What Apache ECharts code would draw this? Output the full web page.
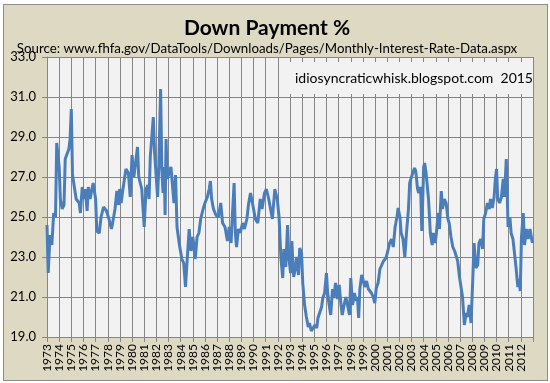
<!DOCTYPE html>
<html>
<head>
<meta charset="utf-8">
<script src="https://cdn.jsdelivr.net/npm/echarts@6/dist/echarts.min.js"></script>
<style>
html,body{margin:0;padding:0;background:#ffffff;}
#wrap{position:relative;width:550px;height:383px;overflow:hidden;}
#frame{position:absolute;left:3px;top:4px;width:545px;height:377px;box-sizing:border-box;background:#ddd9c3;border:1px solid #8c8c8c;}
#chart{position:absolute;left:0;top:0;width:550px;height:383px;}
</style>
</head>
<body>
<div id="wrap"><div id="frame"></div><div id="chart"></div></div>
<script>
// ---- data (time in fractional years, value in %) ----
const timePos = [
1973.00,1973.10,1973.25,1973.40,1973.55,1973.70,1973.80,1974.00,1974.10,1974.25,1974.40,1974.50,1974.65,1974.80,1974.90,
1975.00,1975.10,1975.25,1975.40,1975.50,1975.65,1975.75,1975.90,1976.00,1976.15,1976.30,1976.40,1976.55,1976.70,1976.80,
1977.00,1977.10,1977.30,1977.45,1977.65,1977.90,1978.10,1978.30,1978.40,1978.60,1978.75,1978.90,1978.98,1979.10,1979.25,
1979.40,1979.50,1979.70,1979.85,1980.00,1980.15,1980.30,1980.45,1980.55,1980.70,1980.80,1981.00,1981.15,1981.30,1981.40,
1981.50,1981.55,1981.75,1981.85,1982.00,1982.10,1982.20,1982.35,1982.45,1982.55,1982.65,1982.72,1982.80,1982.90,1983.00,
1983.20,1983.30,1983.45,1983.58,1983.70,1983.90,1984.10,1984.25,1984.40,1984.55,1984.70,1984.85,1985.00,1985.10,1985.20,
1985.35,1985.50,1985.65,1985.85,1986.00,1986.20,1986.35,1986.45,1986.55,1986.70,1986.90,1987.10,1987.30,1987.45,1987.65,
1987.85,1988.00,1988.15,1988.25,1988.40,1988.50,1988.60,1988.75,1988.90,1989.10,1989.25,1989.45,1989.60,1989.75,1989.90,
1990.00,1990.15,1990.35,1990.55,1990.70,1990.90,1991.05,1991.15,1991.25,1991.40,1991.55,1991.75,1991.95,1992.10,1992.25,
1992.40,1992.50,1992.65,1992.80,1992.90,1993.05,1993.15,1993.30,1993.45,1993.55,1993.70,1993.80,1993.95,1994.05,1994.20,
1994.35,1994.50,1994.60,1994.75,1994.90,1995.05,1995.20,1995.30,1995.45,1995.60,1995.70,1995.85,1996.00,1996.10,1996.20,
1996.35,1996.50,1996.60,1996.75,1996.90,1997.05,1997.20,1997.30,1997.45,1997.60,1997.75,1997.90,1998.00,1998.15,1998.30,
1998.45,1998.55,1998.65,1998.75,1998.90,1999.00,1999.15,1999.30,1999.45,1999.55,1999.70,1999.85,1999.98,2000.10,2000.25,
2000.40,2000.50,2000.70,2000.90,2001.05,2001.20,2001.35,2001.50,2001.65,2001.80,2001.90,2002.05,2002.15,2002.30,2002.45,
2002.60,2002.75,2002.85,2003.00,2003.10,2003.25,2003.35,2003.50,2003.60,2003.75,2003.85,2004.00,2004.08,2004.20,2004.40,
2004.55,2004.70,2004.80,2004.95,2005.05,2005.20,2005.30,2005.45,2005.55,2005.70,2005.85,2006.00,2006.10,2006.25,2006.40,
2006.55,2006.70,2006.80,2006.95,2007.05,2007.20,2007.35,2007.50,2007.60,2007.75,2007.90,2008.00,2008.15,2008.30,2008.45,
2008.55,2008.70,2008.85,2008.95,2009.10,2009.25,2009.40,2009.50,2009.65,2009.80,2009.90,2010.00,2010.10,2010.25,2010.40,
2010.55,2010.65,2010.80,2010.95,2011.10,2011.20,2011.35,2011.50,2011.60,2011.75,2011.85,2011.95,2012.05,2012.20,2012.30,
2012.45,2012.60,2012.75,2012.85,2012.95
];
const downPaymentPct = [
24.6,22.2,24.1,23.6,25.2,25.0,28.7,27.5,25.9,25.4,25.6,27.9,28.0,28.4,28.9,
30.4,27.1,27.0,25.9,26.0,25.7,25.2,26.5,25.9,26.4,25.3,26.5,25.9,26.4,26.7,
25.9,24.3,24.2,25.0,25.5,25.3,24.9,24.4,24.7,25.4,26.3,25.6,26.4,25.7,26.4,
26.5,27.4,27.2,26.0,28.1,27.0,27.0,28.5,27.0,26.9,26.4,24.5,26.4,26.6,25.9,
28.0,28.1,30.0,28.3,26.9,26.0,27.5,31.4,27.4,26.2,27.5,25.1,28.9,26.9,26.9,
27.5,27.6,25.7,27.1,24.5,23.6,22.9,22.7,21.5,23.0,24.4,23.3,24.0,23.5,22.9,
24.0,24.2,24.9,25.4,25.7,26.0,26.4,26.8,25.9,25.4,25.1,25.0,25.7,24.7,24.5,
23.8,24.5,23.7,25.0,26.7,24.2,23.5,24.4,24.2,24.7,24.4,24.9,25.7,26.2,26.1,
25.4,24.9,24.7,25.9,25.4,26.2,26.4,26.5,25.9,25.4,24.9,26.4,25.9,25.0,23.0,
21.95,23.4,22.5,24.6,23.0,22.2,23.8,22.0,22.45,23.0,22.1,23.45,23.2,21.7,20.6,
20.0,19.5,19.7,19.3,19.2,19.6,19.45,19.95,19.9,20.5,20.95,21.2,22.2,21.2,20.7,
20.1,21.4,20.95,21.7,20.9,21.6,20.6,20.1,20.6,21.0,20.9,20.1,21.95,20.6,21.2,
20.8,21.0,19.95,21.4,22.1,21.9,21.5,21.8,21.4,21.5,21.2,21.0,20.7,21.45,21.7,
22.4,22.5,22.8,22.95,23.3,23.7,23.9,23.5,24.5,25.0,25.45,25.0,24.2,23.9,23.0,
24.3,25.4,26.7,27.0,27.2,27.45,27.3,26.4,26.2,26.5,24.3,27.5,27.7,27.2,25.9,
24.2,23.6,24.2,23.7,24.2,25.2,24.4,26.3,25.4,25.9,25.7,24.9,24.7,24.0,23.5,
23.3,23.0,22.8,22.0,21.6,21.0,19.6,20.2,20.0,20.6,19.7,21.2,23.7,22.45,22.6,
23.7,23.9,23.4,24.9,25.2,25.7,25.4,25.9,25.45,26.0,26.9,27.4,25.9,25.7,26.0,
26.9,26.0,27.9,24.5,25.0,24.2,23.9,24.0,22.5,21.5,21.9,21.3,24.0,25.2,23.6,
24.4,23.9,24.4,24.3,23.7
];
const yearLabels = ['1973','1974','1975','1976','1977','1978','1979','1980','1981','1982','1983','1984','1985','1986',
'1987','1988','1989','1990','1991','1992','1993','1994','1995','1996','1997','1998','1999','2000','2001','2002','2003',
'2004','2005','2006','2007','2008','2009','2010','2011','2012'];
const valueTicks = [19, 21, 23, 25, 27, 29, 31, 33];

const titleText = 'Down Payment %';
const sourceText = 'Source: www.fhfa.gov/DataTools/Downloads/Pages/Monthly-Interest-Rate-Data.aspx';
const noteText = 'idiosyncraticwhisk.blogspot.com  2015';

const FONT = 'Lato, "Liberation Sans", sans-serif';
const GRID = '#868686';

const chart = echarts.init(document.getElementById('chart'), null, {renderer: 'canvas'});
const seriesData = timePos.map((t, i) => [t, downPaymentPct[i]]);

chart.setOption({
  animation: false,
  backgroundColor: 'transparent',
  title: [
    {text: titleText, left: 262, top: 13, textAlign: 'center',
     textStyle: {fontFamily: FONT, fontSize: 21, fontWeight: 'bold', color: '#000'}},
    {text: sourceText, left: 262, top: 37, textAlign: 'center',
     textStyle: {fontFamily: FONT, fontSize: 13.3, fontWeight: 'normal', color: '#000'}}
  ],
  grid: {left: 47, right: 17, top: 57, bottom: 46, show: true, backgroundColor: '#f2f2f2', borderWidth: 0},
  xAxis: {
    type: 'value', min: 1973, max: 2013, interval: 1,
    axisLine: {show: true, lineStyle: {color: GRID, width: 1}},
    axisTick: {show: true, length: 5, lineStyle: {color: GRID}},
    splitLine: {show: true, lineStyle: {color: GRID, width: 1}},
    axisLabel: {
      rotate: 90, margin: 7, fontFamily: FONT, fontSize: 12, color: '#000',
      formatter: v => { const i = Math.round(v) - 1973; return (i >= 0 && i < yearLabels.length) ? yearLabels[i] : ''; }
    }
  },
  yAxis: {
    type: 'value', min: valueTicks[0], max: valueTicks[valueTicks.length - 1], interval: 2,
    axisLine: {show: true, lineStyle: {color: GRID, width: 1}},
    axisTick: {show: true, length: 5, lineStyle: {color: GRID}},
    splitLine: {show: true, lineStyle: {color: GRID, width: 1}},
    axisLabel: {margin: 11, fontFamily: FONT, fontSize: 13, color: '#000', formatter: v => v.toFixed(1)}
  },
  graphic: [
    {type: 'rect', z: 50, shape: {x: 284, y: 62, width: 247, height: 32}, style: {fill: '#f2f2f2'}},
    {type: 'text', z: 51, x: 295, y: 78, style: {text: noteText, fill: '#000', font: '14px ' + FONT, textVerticalAlign: 'middle'}}
  ],
  series: [{
    type: 'line', data: seriesData, showSymbol: false, smooth: false,
    lineStyle: {color: '#4a7ebb', width: 3}, z: 3
  }]
});
</script>
</body>
</html>
